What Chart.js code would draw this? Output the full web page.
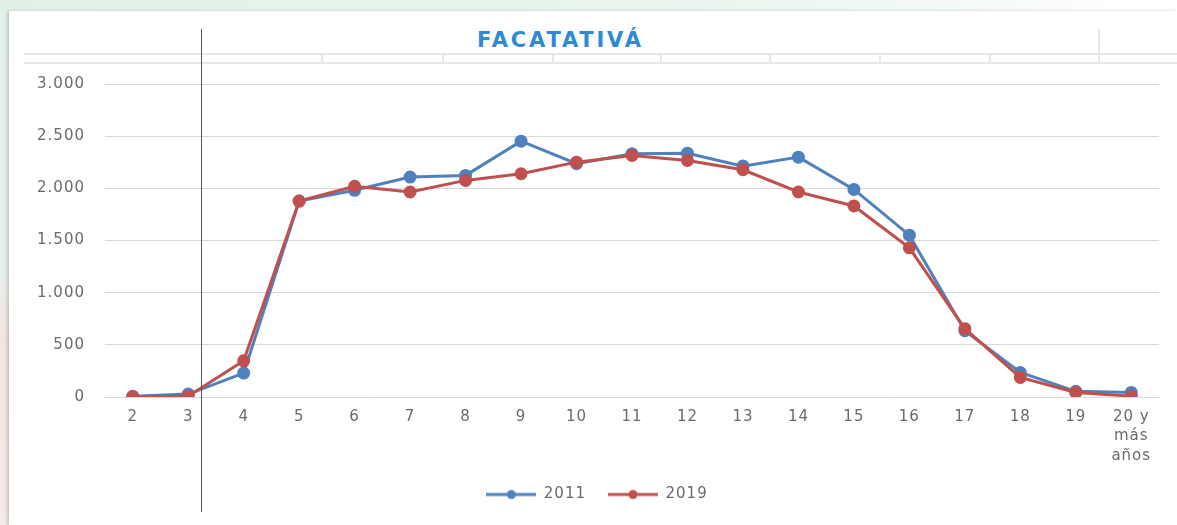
<!DOCTYPE html>
<html>
<head>
<meta charset="utf-8">
<script src="https://cdn.jsdelivr.net/npm/chart.js@4"></script>
<style>
  html, body { margin:0; padding:0; }
  body { width:1177px; height:525px; position:relative; overflow:hidden;
         background: linear-gradient(to right, #e2f1e8 0%, #e9f5ee 60%, #f6fbf8 85%, #ffffff 95%); }
  #leftstrip { position:absolute; left:0; top:0; width:10px; height:525px;
         background: linear-gradient(to bottom, #e2f1e8 0%, #e6f1ea 50%, #f5e4e4 65%, #f7eaea 100%); }
  #box { position:absolute; left:9px; top:11px; right:0; bottom:0; background:#fff;
         box-shadow: -2px 0 3px rgba(0,0,0,0.18); }
  #title { position:absolute; top:28px; left:477px; font-family:"DejaVu Sans"; font-weight:bold;
         font-size:21px; letter-spacing:2.8px; color:#2f8ad6; white-space:nowrap; }
  .hl { position:absolute; left:24px; right:0; height:2px; background:#e6e6e6; }
  .vt { position:absolute; width:2px; background:#e6e6e6; }
  #vline { position:absolute; left:201px; top:29px; width:1px; height:483px; background:#555; }
  #c { position:absolute; left:0; top:0; }
</style>
</head>
<body>
<div id="leftstrip"></div>
<div id="box"></div>
<div class="hl" style="top:53px"></div>
<div class="hl" style="top:62px"></div>
<div class="vt" style="left:321px;top:54px;height:9px"></div>
<div class="vt" style="left:442px;top:54px;height:9px"></div>
<div class="vt" style="left:552px;top:54px;height:9px"></div>
<div class="vt" style="left:660px;top:54px;height:9px"></div>
<div class="vt" style="left:769px;top:54px;height:9px"></div>
<div class="vt" style="left:879px;top:54px;height:9px"></div>
<div class="vt" style="left:989px;top:54px;height:9px"></div>
<div class="vt" style="left:1098px;top:29px;height:34px"></div>
<div id="title">FACATATIVÁ</div>
<canvas id="c" width="1177" height="525"></canvas>
<div id="vline"></div>
<script>
const categories = ['2','3','4','5','6','7','8','9','10','11','12','13','14','15','16','17','18','19',['20 y','más','años']];
const series2011 = [8, 28, 229, 1878, 1981, 2108, 2124, 2452, 2236, 2331, 2337, 2213, 2299, 1990, 1551, 635, 235, 54, 44];
const series2019 = [2, 8, 347, 1878, 2019, 1965, 2076, 2140, 2251, 2315, 2267, 2178, 1965, 1831, 1430, 655, 187, 44, 8];
const seriesNames = ['2011', '2019'];
const yTicks = [0, 500, 1000, 1500, 2000, 2500, 3000];

const BLUE = '#4f81bd';
const RED = '#c0504d';
const TEXT = '#6a6a6a';
const FONT = 'DejaVu Sans';

function legendIcon(color) {
  const cv = document.createElement('canvas');
  cv.width = 50; cv.height = 12;
  const g = cv.getContext('2d');
  g.strokeStyle = color; g.lineWidth = 3;
  g.beginPath(); g.moveTo(0, 6); g.lineTo(50, 6); g.stroke();
  g.fillStyle = color;
  g.beginPath(); g.arc(25, 6, 4.5, 0, Math.PI * 2); g.fill();
  return cv;
}

const spacing = {
  id: 'spacing',
  beforeUpdate(c) { c.ctx.letterSpacing = '1px'; },
  beforeDraw(c) { c.ctx.letterSpacing = '1px'; }
};

Chart.defaults.font.family = FONT;
Chart.defaults.font.size = 15;
Chart.defaults.color = TEXT;

new Chart(document.getElementById('c'), {
  type: 'line',
  data: {
    labels: categories,
    datasets: [
      { label: seriesNames[0], data: series2011, borderColor: BLUE, backgroundColor: BLUE,
        borderWidth: 3, pointRadius: 5, pointBackgroundColor: BLUE, pointBorderColor: BLUE,
        tension: 0, order: 1 },
      { label: seriesNames[1], data: series2019, borderColor: RED, backgroundColor: RED,
        borderWidth: 3, pointRadius: 5, pointBackgroundColor: RED, pointBorderColor: RED,
        tension: 0, order: 0 }
    ]
  },
  options: {
    responsive: false,
    animation: false,
    devicePixelRatio: 1,
    layout: { padding: { left: 35, right: 18, top: 84, bottom: 13 } },
    plugins: {
      title: { display: false },
      tooltip: { enabled: false },
      legend: {
        position: 'bottom',
        labels: {
          usePointStyle: true,
          pointStyleWidth: 50,
          padding: 22,
          color: TEXT,
          font: { family: FONT, size: 15 },
          generateLabels: (chart) => chart.data.datasets.map((ds, i) => ({
            text: ds.label,
            pointStyle: legendIcon(ds.borderColor),
            fillStyle: ds.borderColor,
            strokeStyle: ds.borderColor,
            fontColor: TEXT,
            lineWidth: 0,
            hidden: false,
            datasetIndex: i
          }))
        }
      }
    },
    scales: {
      x: {
        offset: true,
        grid: { display: false, drawTicks: false, offset: true },
        border: { display: false },
        ticks: { padding: 10, color: TEXT, font: { family: FONT, size: 15, lineHeight: 1.3 },
                 maxRotation: 0, autoSkip: false },
        afterFit: (s) => { s.height = 68; }
      },
      y: {
        min: 0, max: 3000,
        afterBuildTicks: (s) => { s.ticks = yTicks.map(v => ({ value: v })); },
        grid: { color: '#d9d9d9', lineWidth: 1, drawTicks: false },
        border: { display: false },
        ticks: { padding: 20, color: TEXT, font: { family: FONT, size: 15 },
                 callback: (v) => v.toLocaleString('de-DE') },
        afterFit: (s) => { s.width = 70; }
      }
    }
  },
  plugins: [spacing]
});
</script>
</body>
</html>
